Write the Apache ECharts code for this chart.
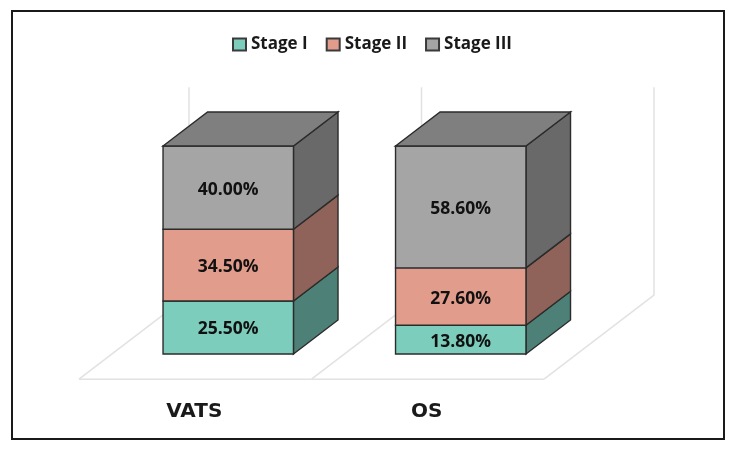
<!DOCTYPE html>
<html><head><meta charset="utf-8">
<style>html,body{margin:0;padding:0;background:#fff}#c{width:735px;height:451px}</style>
<script src="https://cdn.jsdelivr.net/npm/echarts@6/dist/echarts.min.js"></script>
</head><body><div id="c"></div>
<script>
const categories = ['VATS', 'OS'];
const stageI = [25.5, 13.8];
const stageII = [34.5, 27.6];
const stageIII = [40.0, 58.6];
const seriesNames = ['Stage I', 'Stage II', 'Stage III'];

const FONT = '"Open Sans", sans-serif';
const BAR_RATIO = 0.561;
const DEPTH = {x: 110, y: -84};        // full floor depth in px
const T_BAR_FRONT = 0.30, T_BAR_BACK = 0.705;
const EDGE = '#2b2b2b';
const WALL = '#e2e2e2';

const chart = echarts.init(document.getElementById('c'), null, {renderer: 'canvas'});

function at(p, t) { return [p[0] + DEPTH.x * t, p[1] + DEPTH.y * t]; }

function renderFloor(params, api) {
  const i = api.value(0);
  const band = api.size([1, 0])[0];
  const c = api.coord([i, 0]);
  const top = api.coord([i, 100]);
  const shift = [-DEPTH.x * T_BAR_FRONT, -DEPTH.y * T_BAR_FRONT];
  const a = [c[0] - band / 2 + shift[0], c[1] + shift[1]];
  const b = [a[0] + band, a[1]];
  const h = c[1] - top[1];
  const style = {stroke: WALL, lineWidth: 1.5, fill: null};
  const pl = pts => ({type: 'polyline', shape: {points: pts}, style: style, silent: true});
  const edge = p => { const q = at(p, 1); return pl([p, q, [q[0], q[1] - h]]); };
  const kids = [pl([a, b]), edge(a)];
  if (i === categories.length - 1) kids.push(edge(b));
  return {type: 'group', children: kids};
}

function makeRender(front, side, isTop) {
  return function (params, api) {
    const i = api.value(0), y0 = api.value(1), y1 = api.value(2);
    const band = api.size([1, 0])[0], w = band * BAR_RATIO;
    const p0 = api.coord([i, y0]), p1 = api.coord([i, y1]);
    const xl = p0[0] - w / 2, xr = p0[0] + w / 2;
    const d = T_BAR_BACK - T_BAR_FRONT;
    const dx = DEPTH.x * d, dy = DEPTH.y * d;
    const line = {stroke: EDGE, lineWidth: 1.4, lineJoin: 'miter'};
    const poly = (pts, fill) => ({type: 'polygon', shape: {points: pts},
      style: Object.assign({fill: fill}, line)});
    const kids = [
      poly([[xr, p0[1]], [xr + dx, p0[1] + dy], [xr + dx, p1[1] + dy], [xr, p1[1]]], side),
      poly([[xl, p0[1]], [xr, p0[1]], [xr, p1[1]], [xl, p1[1]]], front)
    ];
    if (isTop) kids.push(poly([[xl, p1[1]], [xr, p1[1]], [xr + dx, p1[1] + dy], [xl + dx, p1[1] + dy]], '#7f7f7f'));
    kids.push({type: 'text', silent: true, style: {
      text: (y1 - y0).toFixed(2) + '%', x: p0[0], y: (p0[1] + p1[1]) / 2 + 2,
      textAlign: 'center', textVerticalAlign: 'middle',
      font: 'bold 17.5px ' + FONT, fill: '#111'
    }});
    return {type: 'group', children: kids};
  };
}

function rows(vals, below) {
  return categories.map((c, i) => [i, below[i], +(below[i] + vals[i]).toFixed(2)]);
}
const base0 = categories.map(() => 0);
const base1 = stageI.slice();
const base2 = stageI.map((v, i) => v + stageII[i]);

function stageSeries(name, vals, below, front, side, isTop) {
  return {
    name: name, type: 'custom', coordinateSystem: 'cartesian2d',
    renderItem: makeRender(front, side, isTop),
    itemStyle: {color: front, borderColor: '#3a3a3a', borderWidth: 1},
    encode: {x: 0, y: [1, 2]},
    data: rows(vals, below)
  };
}

chart.setOption({
  animation: false,
  backgroundColor: '#fff',
  graphic: [{type: 'rect', shape: {x: 12, y: 11, width: 712, height: 428},
    style: {fill: 'none', stroke: '#1a1a1a', lineWidth: 2}, silent: true}],
  legend: {
    data: seriesNames, icon: 'rect', left: 227, top: 31, itemWidth: 13, itemHeight: 12, itemGap: 18,
    textStyle: {fontFamily: FONT, fontWeight: 'bold', fontSize: 17, color: '#1a1a1a'}
  },
  grid: {left: 112, top: 146, width: 465, height: 208, containLabel: false},
  xAxis: {
    type: 'category', data: categories,
    axisLine: {show: false}, axisTick: {show: false}, splitLine: {show: false},
    axisLabel: {
      fontFamily: '"DejaVu Sans", sans-serif', fontWeight: 'bold', fontSize: 20,
      color: '#1a1a1a', margin: 48, padding: [0, 68, 0, 0]
    }
  },
  yAxis: {type: 'value', min: 0, max: 100, show: false},
  series: [
    {name: 'floor', type: 'custom', coordinateSystem: 'cartesian2d', silent: true,
     renderItem: renderFloor, encode: {x: 0, y: 1},
     data: categories.map((c, i) => [i, 0])},
    stageSeries(seriesNames[0], stageI, base0, '#7ccdbc', '#4d8178', false),
    stageSeries(seriesNames[1], stageII, base1, '#e29c8c', '#8f6359', false),
    stageSeries(seriesNames[2], stageIII, base2, '#a5a5a5', '#696969', true)
  ]
});
</script></body></html>
